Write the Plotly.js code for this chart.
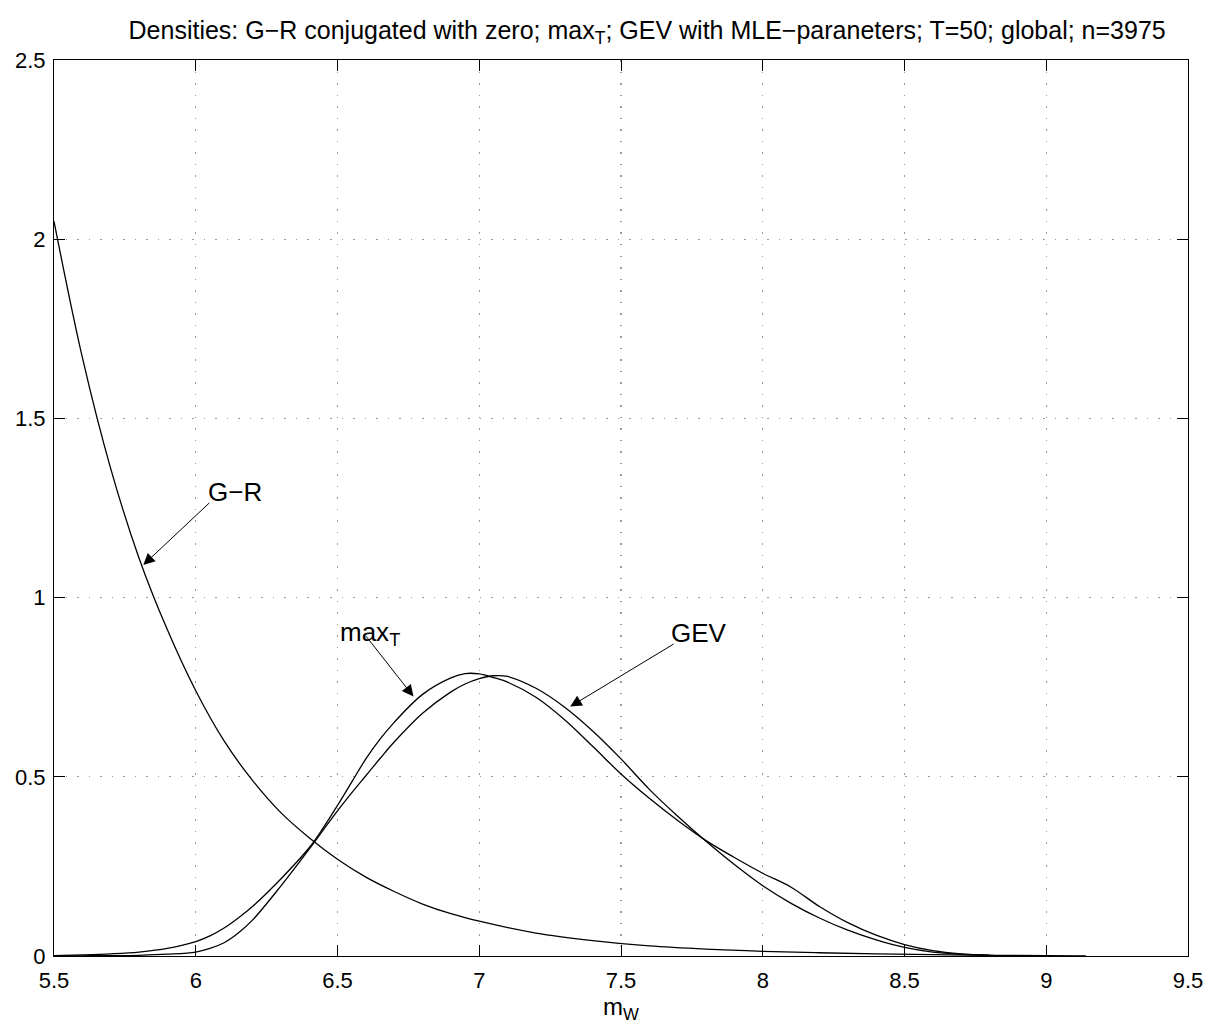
<!DOCTYPE html>
<html>
<head>
<meta charset="utf-8">
<script src="https://cdn.plot.ly/plotly-3.0.1.min.js"></script>
<style>html,body{margin:0;padding:0;background:#fff;}</style>
</head>
<body>
<div id="chart" style="width:1221px;height:1035px;"></div>
<script>
// Gutenberg–Richter density
const grX = [5.5, 5.6, 5.7, 5.8, 5.9, 6.0, 6.1, 6.2, 6.3, 6.4, 6.5, 6.6, 6.7, 6.8, 6.9, 7.0, 7.2, 7.4, 7.6, 7.8, 8.0, 8.2, 8.4, 8.6, 8.8, 9.0, 9.14];
const grY = [2.05, 1.67, 1.36, 1.11, 0.91, 0.74, 0.60, 0.49, 0.40, 0.33, 0.27, 0.22, 0.18, 0.145, 0.118, 0.097, 0.064, 0.043, 0.028, 0.019, 0.013, 0.009, 0.006, 0.004, 0.002, 0.001, 0.0];

// max_T and GEV densities
const mX = [5.5, 5.6, 5.7, 5.8, 5.9, 6.0, 6.05, 6.1, 6.15, 6.2, 6.3, 6.4, 6.45, 6.5, 6.55, 6.6, 6.65, 6.7, 6.8, 6.9, 6.95, 7.0, 7.05, 7.1, 7.2, 7.3, 7.4, 7.5, 7.6, 7.7, 7.8, 7.9, 8.0, 8.1, 8.2, 8.3, 8.4, 8.5, 8.6, 8.7, 8.8, 8.9, 9.0];
const maxTY = [0.001, 0.003, 0.006, 0.011, 0.021, 0.04, 0.056, 0.078, 0.106, 0.138, 0.215, 0.302, 0.358, 0.42, 0.485, 0.55, 0.605, 0.652, 0.73, 0.776, 0.788, 0.787, 0.777, 0.764, 0.722, 0.66, 0.585, 0.508, 0.44, 0.378, 0.322, 0.275, 0.231, 0.192, 0.138, 0.093, 0.058, 0.032, 0.015, 0.006, 0.002, 0.0005, 0.0];
const gevY = [0.0, 0.0005, 0.001, 0.002, 0.005, 0.011, 0.021, 0.037, 0.064, 0.1, 0.195, 0.298, 0.352, 0.405, 0.455, 0.503, 0.551, 0.597, 0.677, 0.737, 0.759, 0.774, 0.782, 0.780, 0.747, 0.695, 0.628, 0.55, 0.465, 0.39, 0.32, 0.255, 0.196, 0.147, 0.106, 0.072, 0.045, 0.024, 0.011, 0.005, 0.002, 0.0005, 0.0];

const xTicks = [5.5, 6, 6.5, 7, 7.5, 8, 8.5, 9, 9.5];
const yTicks = [0, 0.5, 1, 1.5, 2, 2.5];

const titleText = "Densities: G\u2212R conjugated with zero; max<sub>T</sub>; GEV with MLE\u2212paraneters; T=50; global; n=3975";
const xLabel = "m<sub>W</sub>";

const FONT = "Liberation Sans, Arial, Helvetica, sans-serif";
const lineStyle = {color: "#000", width: 1.3, shape: "spline", smoothing: 1.0};

const traces = [
  {x: grX, y: grY, mode: "lines", line: lineStyle, hoverinfo: "skip"},
  {x: mX, y: maxTY, mode: "lines", line: lineStyle, hoverinfo: "skip"},
  {x: mX, y: gevY, mode: "lines", line: lineStyle, hoverinfo: "skip"}
];

const arrowCommon = {showarrow: true, text: "", arrowhead: 2, arrowsize: 2.3, arrowwidth: 1, arrowcolor: "#000", axref: "x", ayref: "y", standoff: 0, startstandoff: 0};
const txtCommon = {showarrow: false, xanchor: "left", yanchor: "middle", font: {family: FONT, size: 26, color: "#000"}};

const annotations = [
  Object.assign({}, arrowCommon, {x: 5.815, y: 1.091, ax: 6.053, ay: 1.268}),
  Object.assign({}, txtCommon, {x: 6.036, y: 1.296, text: "G\u2212R"}),
  Object.assign({}, arrowCommon, {x: 6.768, y: 0.724, ax: 6.597, ay: 0.896}),
  Object.assign({}, txtCommon, {x: 6.5, y: 0.9, text: "max<sub>T</sub>"}),
  Object.assign({}, arrowCommon, {x: 7.321, y: 0.696, ax: 7.691, ay: 0.873}),
  Object.assign({}, txtCommon, {x: 7.668, y: 0.901, text: "GEV"})
];

const axisCommon = {
  showline: true, linecolor: "#000", linewidth: 1, mirror: "allticks",
  ticks: "inside", ticklen: 11, tickwidth: 1, tickcolor: "#000",
  showgrid: true, gridcolor: "#9a9a9a", gridwidth: 1.2, griddash: "1.5px,10px",
  zeroline: false, tickfont: {family: FONT, size: 22, color: "#000"}
};

const layout = {
  width: 1221, height: 1035,
  margin: {l: 54, r: 33, t: 60, b: 79},
  paper_bgcolor: "#fff", plot_bgcolor: "#fff",
  showlegend: false,
  font: {family: FONT, color: "#000"},
  title: {text: titleText, x: 0.53, xanchor: "center", xref: "container", y: 0.971, yanchor: "middle", yref: "container", font: {family: FONT, size: 25, color: "#000"}},
  xaxis: Object.assign({}, axisCommon, {range: [5.5, 9.5], tickvals: xTicks, ticktext: xTicks.map(String), ticklabelstandoff: 5, title: {text: xLabel, standoff: 4, font: {family: FONT, size: 24, color: "#000"}}}),
  yaxis: Object.assign({}, axisCommon, {range: [0, 2.5], tickvals: yTicks, ticktext: yTicks.map(String), ticklabelstandoff: 3}),
  annotations: annotations
};

Plotly.newPlot("chart", traces, layout, {displayModeBar: false, staticPlot: true});
</script>
</body>
</html>
